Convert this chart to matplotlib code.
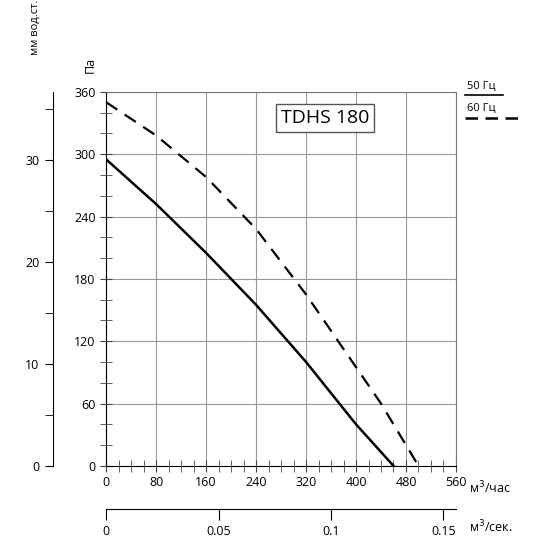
import matplotlib
matplotlib.use("Agg")
import matplotlib.pyplot as plt
from matplotlib.ticker import MultipleLocator

q50 = [0, 80, 160, 240, 320, 400, 460]
p50 = [295, 252, 205, 155, 100, 40, 0]
q60 = [0, 80, 160, 240, 320, 400, 440, 480, 500]
p60 = [350, 318, 278, 228, 165, 95, 60, 20, 0]
xticks = [0, 80, 160, 240, 320, 400, 480, 560]
yticks = [0, 60, 120, 180, 240, 300, 360]
mm_ticks = [0, 10, 20, 30]
sec_ticks = [0, 0.05, 0.1, 0.15]

fig = plt.figure(figsize=(5.5, 5.5), dpi=100)
plt.rcParams['font.family'] = ['Open Sans', 'DejaVu Sans']
fs = 9
ax = fig.add_axes([0.193, 0.153, 0.636, 0.68])
ax.plot(q50, p50, color='black', lw=1.8)
ax.plot(q60, p60, color='black', lw=1.6, ls=(0, (6, 4)))
ax.set_xlim(0, 560); ax.set_ylim(0, 360)
ax.set_xticks(xticks); ax.set_yticks(yticks)
ax.xaxis.set_minor_locator(MultipleLocator(20))
ax.yaxis.set_minor_locator(MultipleLocator(20))
ax.tick_params(axis='both', which='both', direction='inout', labelsize=fs, color='#444', length=8)
ax.grid(True, which='major', color='#999', lw=0.8)
for s in ['top', 'right']:
    ax.spines[s].set_color('#777')
fig.text(0.853, 0.113, 'м$^3$/час', fontsize=fs, va='center')
ax.text(0.5, 0.93, 'TDHS 180', transform=ax.transAxes, fontsize=14, va='center',
        bbox=dict(boxstyle='square,pad=0.25', fc='white', ec='#555', lw=1))
ax.text(-0.045, 1.05, 'Па', transform=ax.transAxes, fontsize=fs, rotation=90, ha='center', va='bottom')

# mm axis
axm = fig.add_axes([0.096, 0.153, 0.0001, 0.68])
axm.set_ylim(0, 360 / 9.81)
for s in ['top', 'right', 'bottom']:
    axm.spines[s].set_visible(False)
axm.set_xticks([])
axm.set_yticks(mm_ticks)
axm.yaxis.set_minor_locator(MultipleLocator(5))
axm.tick_params(axis='y', which='both', length=6, labelsize=fs)
fig.text(0.064, 0.9, 'мм вод.ст.', fontsize=8, rotation=90, ha='center', va='bottom')

# m3/s axis
axs = fig.add_axes([0.193, 0.075, 0.636, 0.0001])
axs.set_xlim(0, 560 / 3600)
for s in ['top', 'right', 'left']:
    axs.spines[s].set_visible(False)
axs.set_yticks([])
axs.set_xticks(sec_ticks)
axs.set_xticklabels(['0', '0.05', '0.1', '0.15'])
axs.tick_params(axis='x', length=8, direction='out', labelsize=fs)
fig.text(0.853, 0.042, 'м$^3$/сек.', fontsize=fs, va='center')

# legend
fig.text(0.849, 0.838, '50 Гц', fontsize=8)
fig.add_artist(plt.Line2D([0.845, 0.915], [0.828, 0.828], color='black', lw=1.2))
fig.text(0.849, 0.798, '60 Гц', fontsize=8)
fig.add_artist(plt.Line2D([0.845, 0.945], [0.785, 0.785], color='black', lw=1.8, ls=(0, (5, 3))))

fig.savefig('out.png', dpi=100)
